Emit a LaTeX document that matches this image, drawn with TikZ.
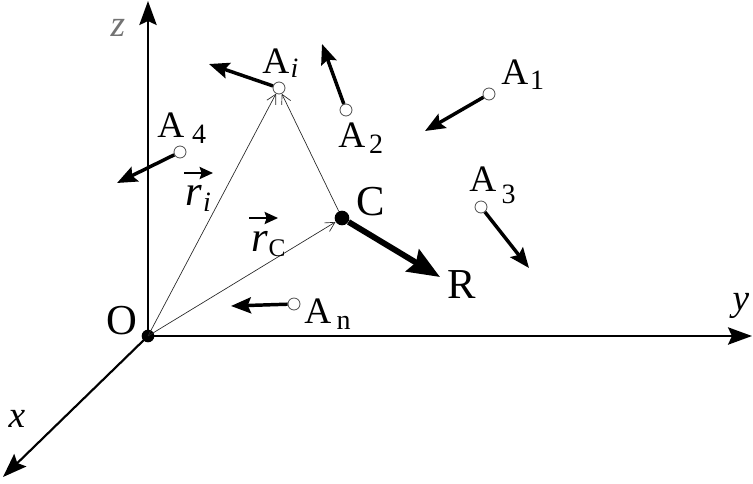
\documentclass[tikz,border=0pt]{standalone}
\usepackage{fontspec}
\setmainfont{Liberation Serif}
\usetikzlibrary{arrows.meta}
\newcommand{\Alab}[4]{A\kern#4\raisebox{-#2}{\fontsize{#3}{#3}\selectfont #1}}
\tikzset{
  axis/.style={line width=1.6pt, -{Stealth[length=18pt, width=13pt, inset=3pt]}},
  force/.style={line width=2.6pt, -{Stealth[length=15pt, width=12pt, inset=2.5pt]}},
  bigforce/.style={line width=4.4pt, -{Stealth[length=24pt, width=19pt, inset=3pt]}},
  thinvec/.style={line width=0.5pt, black!85, -{Straight Barb[length=7pt, width=7.5pt]}},
  vecmark/.style={line width=1.8pt, -{Stealth[length=10pt, width=9pt, inset=1.5pt]}},
  pt/.style={circle, draw=black!70, fill=white, line width=0.6pt, minimum size=9pt, inner sep=0pt},
  dot/.style={circle, fill=black, minimum size=#1, inner sep=0pt},
  lab/.style={inner sep=0pt, anchor=base west, font=\fontsize{28pt}{28pt}\selectfont},
  biglab/.style={inner sep=0pt, font=\fontsize{32pt}{32pt}\selectfont},
  axlab/.style={inner sep=0pt, font=\fontsize{28pt}{28pt}\selectfont\itshape}
}
\begin{document}
\begin{tikzpicture}[x=0.75pt,y=-0.75pt]
\useasboundingbox (0,0) rectangle (753,483);
% axes
\node[dot=9.5pt] (O) at (148,336) {};
\coordinate (ztip) at (148,1);
\coordinate (ytip) at (752,336);
\coordinate (xtip) at (3,477);
\draw[axis] (O.center) -- (ztip);
\draw[axis] (O.center) -- (ytip);
\draw[axis] (O.center) -- (xtip);
\node[axlab, text=black!55] (zl) at (118,28) {z};
\node[axlab] (yl) at (741,306) {y};
\node[axlab] (xl) at (17,419) {x};
\node[biglab] (Ol) at (122,321) {O};
% points
\node[pt] (Ai) at (279,88) {};
\node[pt] (A1) at (489,94) {};
\node[pt] (A2) at (346,110) {};
\node[pt] (A3) at (481,207) {};
\node[pt] (A4) at (180,152) {};
\node[pt] (An) at (294,304) {};
\node[dot=11pt] (C) at (342,218) {};
% force tips
\coordinate (Fi) at (209,64);
\coordinate (F1) at (425,131);
\coordinate (F2) at (322,44);
\coordinate (F3) at (529,268);
\coordinate (F4) at (117,183);
\coordinate (Fn) at (231,306);
\coordinate (FR) at (440,277);
\draw[force] (Ai) -- (Fi);
\draw[force] (A1) -- (F1);
\draw[force] (A2) -- (F2);
\draw[force] (A3) -- (F3);
\draw[force] (A4) -- (F4);
\draw[force] (An) -- (Fn);
\draw[bigforce] (C) -- (FR);
% position vectors
\draw[thinvec] (O.center) -- (Ai);
\draw[thinvec] (O.center) -- (C);
\draw[thinvec] (C) -- (Ai);
% labels
\node[lab] (Lai) at (262,73) {\Alab{\itshape i}{3pt}{21pt}{1pt}};
\node[lab] (La1) at (501,84) {\Alab{1}{4pt}{21pt}{1.5pt}};
\node[lab] (La2) at (338,147) {\Alab{2}{5pt}{21pt}{3pt}};
\node[lab] (La3) at (469,191) {\Alab{3}{9pt}{21pt}{4pt}};
\node[lab] (La4) at (157,137) {\Alab{4}{5pt}{21pt}{6pt}};
\node[lab] (Lan) at (304,323) {\Alab{n}{5pt}{21pt}{4pt}};
\node[biglab] (Cl) at (371,202) {C};
\node[biglab] (Rl) at (462,285) {R};
% r labels
\node[inner sep=0pt, anchor=base west, font=\fontsize{32pt}{32pt}\selectfont\itshape] (ri) at (185,205) {r\kern1pt\raisebox{-5pt}{\fontsize{21pt}{21pt}\selectfont i}};
\node[inner sep=0pt, anchor=base west, font=\fontsize{32pt}{32pt}\selectfont\itshape] (rc) at (251,251) {r\kern0.5pt\raisebox{-4pt}{\fontsize{19pt}{19pt}\selectfont\upshape C}};
\coordinate (ria) at (184,173);
\coordinate (rib) at (213,173);
\coordinate (rca) at (249,218);
\coordinate (rcb) at (278,218);
\draw[vecmark] (ria) -- (rib);
\draw[vecmark] (rca) -- (rcb);
\end{tikzpicture}
\end{document}
